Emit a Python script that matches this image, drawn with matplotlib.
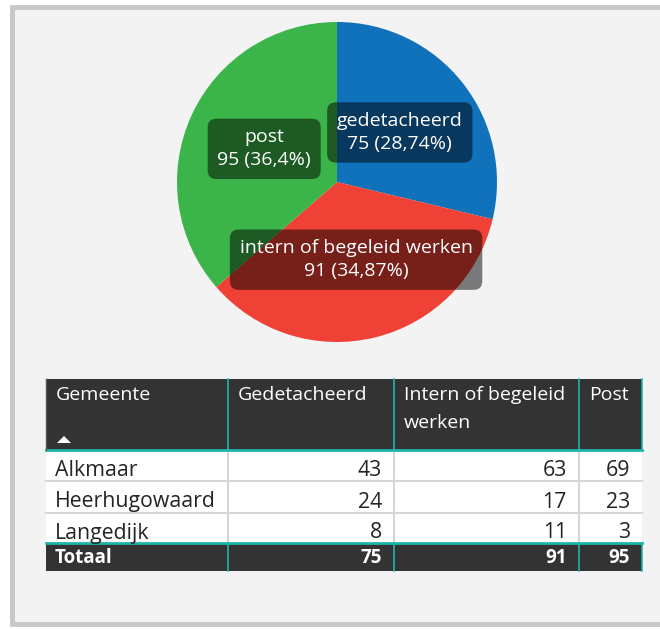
import matplotlib
matplotlib.use("Agg")
import matplotlib.pyplot as plt
from matplotlib.patches import Rectangle, Polygon
import numpy as np

plt.rcParams['font.family'] = ['Open Sans', 'DejaVu Sans']

# ---- data ----
categories = ["gedetacheerd", "intern of begeleid werken", "post"]
values = [75, 91, 95]
colors = ["#1172bc", "#ef4136", "#3bb54a"]

table_columns = ["Gemeente", "Gedetacheerd", "Intern of begeleid\nwerken", "Post"]
gemeenten = ["Alkmaar", "Heerhugowaard", "Langedijk"]
gedetacheerd = [43, 24, 8]
intern = [63, 17, 11]
post = [69, 23, 3]
total_label = "Totaal"

W, H = 660, 629
fig = plt.figure(figsize=(W / 100, H / 100), dpi=100)
fig.patch.set_facecolor("white")
ax = fig.add_axes([0, 0, 1, 1])
ax.set_xlim(0, W)
ax.set_ylim(H, 0)  # pixel coords, y down
ax.axis("off")

# frame
ax.add_patch(Rectangle((12, 7), 700, 617, facecolor="#f3f3f3", edgecolor="#c8c8c8", lw=3.5, zorder=0))

# ---- pie (drawn in separate axes with y up) ----
cx, cy, r = 337, 182, 160
pax = fig.add_axes([(cx - r) / W, 1 - (cy + r) / H, 2 * r / W, 2 * r / H])
pax.set_xlim(-1, 1)
pax.set_ylim(-1, 1)
pax.axis("off")
pax.patch.set_alpha(0)
wedges, _ = pax.pie(values, colors=colors, startangle=90, counterclock=False,
                    radius=1.0, center=(0, 0), wedgeprops=dict(linewidth=0))
pax.set_xlim(-1, 1)
pax.set_ylim(-1, 1)

total = sum(values)


def fmt_pct(v):
    s = f"{100 * v / total:.2f}".rstrip("0").rstrip(".")
    return s.replace(".", ",")


for w, cat, v in zip(wedges, categories, values):
    ang = np.deg2rad((w.theta1 + w.theta2) / 2)
    x, y = 0.5 * np.cos(ang), 0.5 * np.sin(ang)
    pax.text(x, y, f"{cat}\n{v} ({fmt_pct(v)}%)", ha="center", va="center",
             fontsize=14, color="white", linespacing=1.35, zorder=5, clip_on=False,
             bbox=dict(boxstyle="round,pad=0.5,rounding_size=0.45", facecolor="black",
                       alpha=0.5, edgecolor="none"))

# ---- table ----
col_x = [46, 228, 394, 579, 642]
hdr_top, hdr_bot = 379, 450
row_y = [450, 481, 513, 543]
tot_bot = 571
dark = "#333333"
teal = "#1fb5aa"
grid = "#d6d6d6"

# header
ax.add_patch(Rectangle((col_x[0], hdr_top), col_x[-1] - col_x[0], hdr_bot - hdr_top,
                       facecolor=dark, edgecolor="none", zorder=2))
# body
ax.add_patch(Rectangle((col_x[0], row_y[0]), col_x[-1] - col_x[0], row_y[-1] - row_y[0],
                       facecolor="white", edgecolor="none", zorder=2))
# total
ax.add_patch(Rectangle((col_x[0], row_y[-1]), col_x[-1] - col_x[0], tot_bot - row_y[-1],
                       facecolor=dark, edgecolor="none", zorder=2))

# body grid lines
for y in row_y[1:-1]:
    ax.plot([col_x[0], col_x[-1]], [y, y], color=grid, lw=1.5, zorder=3)
for x in col_x[1:-1]:
    ax.plot([x, x], [row_y[0], row_y[-1]], color=grid, lw=1.5, zorder=3)
# teal lines
ax.plot([col_x[0], col_x[-1]], [hdr_bot, hdr_bot], color=teal, lw=2, zorder=4)
ax.plot([col_x[0], col_x[-1]], [row_y[-1], row_y[-1]], color=teal, lw=2, zorder=4)
for x in col_x[1:]:
    ax.plot([x, x], [hdr_top, hdr_bot], color=teal, lw=1.2, zorder=4)
    ax.plot([x, x], [row_y[-1], tot_bot], color=teal, lw=1.2, zorder=4)
ax.plot([col_x[0], col_x[0]], [hdr_top, hdr_bot], color="#555555", lw=1, zorder=4)

# header texts
for i, name in enumerate(table_columns):
    ax.text(col_x[i] + 10, hdr_top + 7, name, ha="left", va="top", color="white",
            fontsize=14, linespacing=1.7, zorder=5)
# sort arrow
ax.add_patch(Polygon([[57, 443], [71, 443], [64, 436]], closed=True, facecolor="white",
                     edgecolor="none", zorder=5))

# body texts
rows = list(zip(gemeenten, gedetacheerd, intern, post))
for j, (g, a, b, c) in enumerate(rows):
    yc = (row_y[j] + row_y[j + 1]) / 2 + 5
    ax.text(col_x[0] + 9, yc, g, ha="left", va="center", color="#252423", fontsize=15.3, zorder=5)
    for k, v in enumerate([a, b, c]):
        ax.text(col_x[k + 2] - 12, yc, str(v), ha="right", va="center", color="#252423",
                fontsize=15.3, zorder=5)

# total row
yc = (row_y[-1] + tot_bot) / 2 + 1
ax.text(col_x[0] + 9, yc, total_label, ha="left", va="center", color="white",
        fontsize=13.5, fontweight="bold", zorder=5)
for k, series in enumerate([gedetacheerd, intern, post]):
    ax.text(col_x[k + 2] - 12, yc, str(sum(series)), ha="right", va="center", color="white",
            fontsize=13.5, fontweight="bold", zorder=5)

fig.savefig("out.png", dpi=100, facecolor="white")
